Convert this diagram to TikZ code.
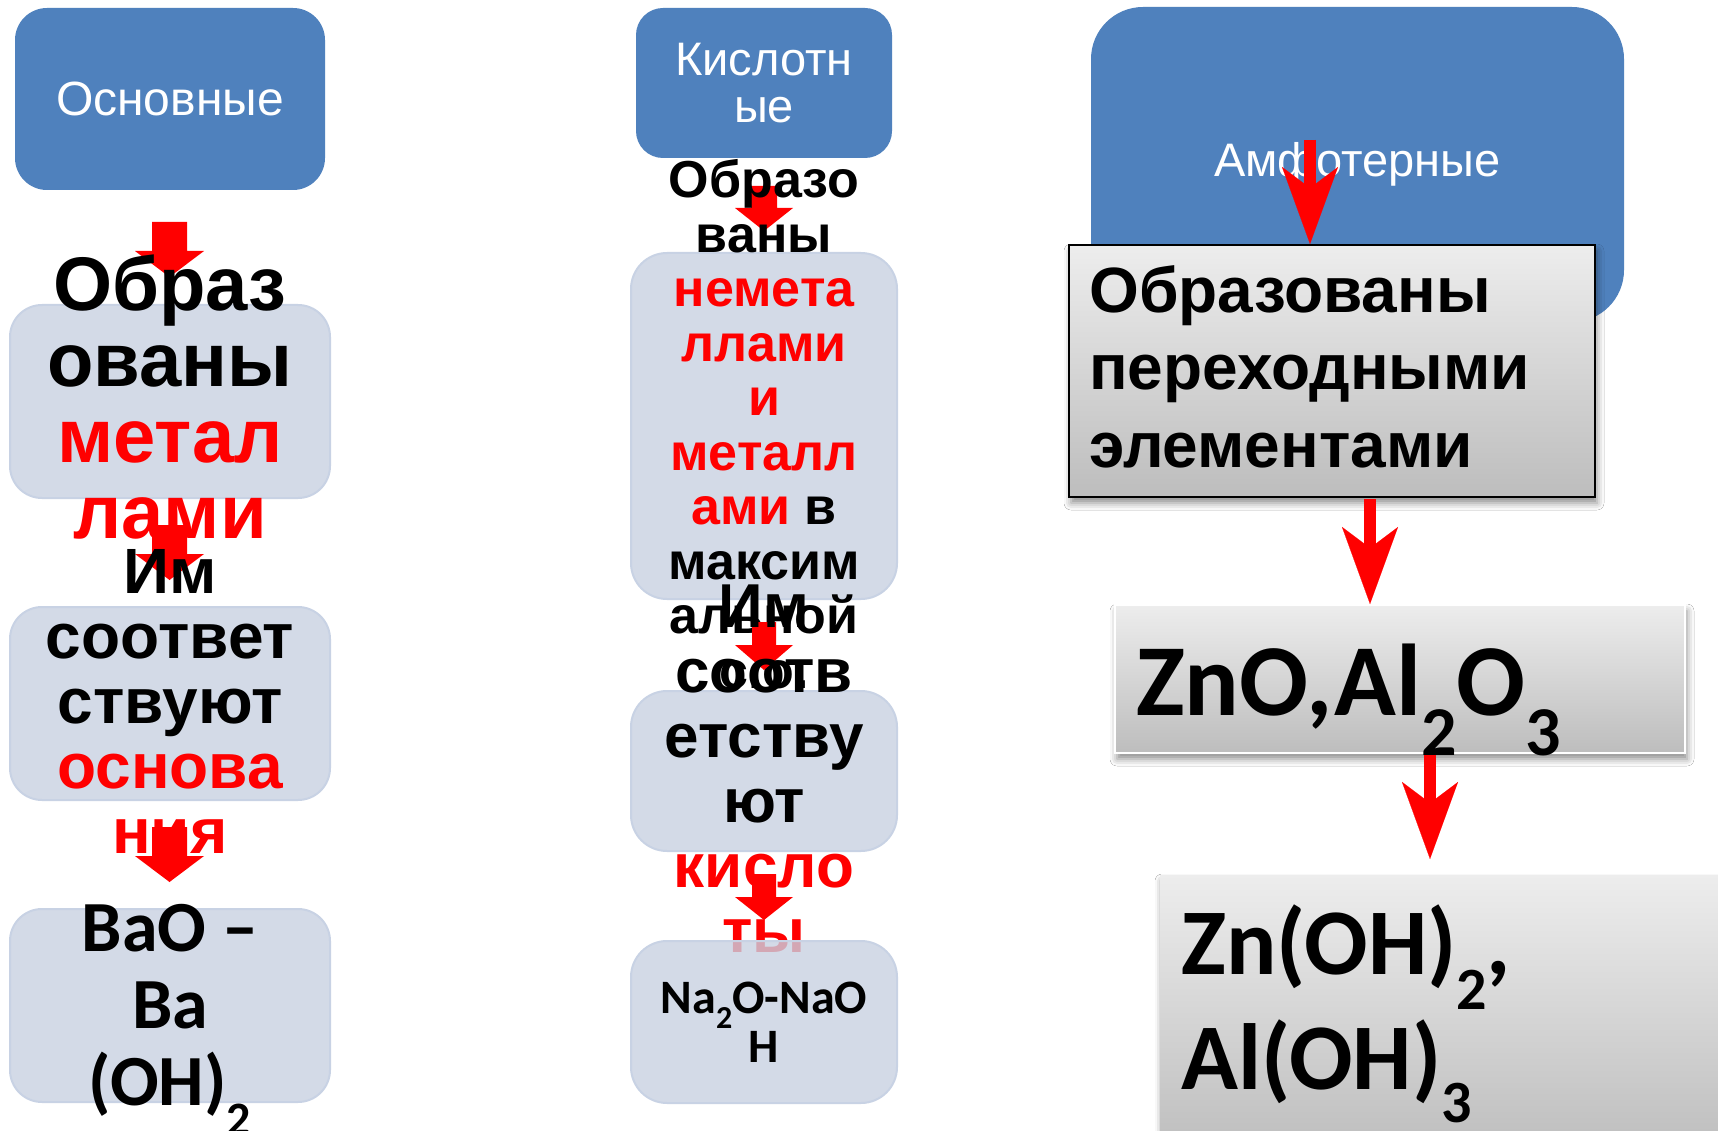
\documentclass[tikz,border=0pt]{standalone}
\usepackage{fontspec}
\setmainfont{Liberation Sans}
\newfontfamily\calib{Carlito}
\usetikzlibrary{arrows.meta,shadows.blur}

\definecolor{hdrblue}{RGB}{79,129,189}
\definecolor{paleblue}{RGB}{200,209,226}
\definecolor{paleedge}{RGB}{200,210,228}
\definecolor{grtop}{RGB}{237,237,237}
\definecolor{grbot}{RGB}{189,189,189}

% text block whose anchor is the baseline of its first line
\newcommand\stackc[3]{\parbox[t]{600pt}{\centering\fontsize{#1}{#2}\selectfont\bfseries\lineskiplimit=-1000pt\lineskip=0pt #3}}
\newcommand\stackl[3]{\parbox[t]{560pt}{\raggedright\fontsize{#1}{#2}\selectfont\bfseries\lineskiplimit=-1000pt\lineskip=0pt #3}}
\newcommand\red[1]{\textcolor{red}{#1}}
% chemical index: lowered by #1, set at size #2
\newcommand\chidx[3]{\raisebox{-#1pt}{\fontsize{#2}{#2}\selectfont #3}}
% block arrow: centre x, tip y, shaft half width, head half width, head length, shaft length
\newcommand\blockarrow[6]{%
  \fill[red] ({#1-#3},{#2-#5-#6}) -- ({#1+#3},{#2-#5-#6}) -- ({#1+#3},{#2-#5})
    -- ({#1+#4},{#2-#5}) -- (#1,#2) -- ({#1-#4},{#2-#5}) -- ({#1-#3},{#2-#5}) -- cycle;}

\begin{document}
\begin{tikzpicture}[x=1pt,y=-1pt,
  hdr/.style={fill=hdrblue, text=white, inner sep=0pt, align=center,
    font=\fontsize{47}{47}\selectfont},
  pale/.style={fill=paleblue, fill opacity=0.8, draw=paleedge, line width=2pt,
    inner sep=0pt, rounded corners=32pt},
  txt/.style={anchor=base, inner sep=0pt},
  txtl/.style={anchor=base west, inner sep=0pt},
  grey/.style={top color=grtop, bottom color=grbot, inner sep=0pt,
    blur shadow={shadow xshift=2pt, shadow yshift=-6pt, shadow blur radius=7pt, shadow opacity=45}},
  conn/.style={red, line width=12pt,
    -{Stealth[length=77pt, width=56pt, inset=21pt, line width=0.1pt]}}
]
\useasboundingbox (0,0) rectangle (1718,1131);
\clip (0,0) rectangle (1718,1131);
\fill[white] (0,0) rectangle (1718,1131);

% ---------- basic oxides ----------
\node[hdr, minimum width=310pt, minimum height=182pt, rounded corners=32pt,
  font=\fontsize{48}{48}\selectfont] (osn) at (170,99) {Основные};
\blockarrow{169.5}{277}{17.5}{34.5}{26}{29}
\node[pale, minimum width=320pt, minimum height=193pt] (b11) at (170,401.5) {};
\node[txt] (t11) at (170,311) {\stackc{76}{76}{Образ\\ованы\\\red{метал}\\\red{лами}}};
\blockarrow{169.5}{580}{17.5}{34.5}{26}{29}
\node[pale, minimum width=320pt, minimum height=193pt] (b12) at (170,703.5) {};
\node[txt] (t12) at (170,593) {\stackc{64}{65}{Им\\соответ\\ствуют\\\red{основа}\\\red{ния}}};
\blockarrow{169.5}{882}{17.5}{34.5}{26}{29}
\node[pale, minimum width=320pt, minimum height=193pt] (b13) at (170,1005.5) {};
\node[txt] (t13) at (170,951) {\calib\stackc{72}{77}{BaO –\\Ba\\(OH)\chidx{30}{48}{2}}};

% ---------- acidic oxides ----------
\node[hdr, minimum width=256pt, minimum height=150pt, rounded corners=27pt] (kis) at (764,83) {Кислотн\\ые};
\blockarrow{764}{231}{13}{29}{23}{22}
\node[pale, minimum width=266pt, minimum height=346pt, rounded corners=36pt] (b21) at (764,426) {};
\node[txt] (t21) at (764,198) {\stackc{52}{54.5}{Образо\\ваны\\\red{немета}\\\red{ллами}\\\red{и}\\\red{металл}\\\red{ами} в\\максим\\альной\\с.о.}};
\blockarrow{764}{670}{12}{29}{25}{23}
\node[pale, minimum width=266pt, minimum height=160pt, rounded corners=36pt] (b22) at (764,771) {};
\node[txt] (t22) at (764,627) {\stackc{62}{65}{Им\\соотв\\етству\\ют\\\red{кисло}\\\red{ты}}};
\blockarrow{764}{920}{12}{29}{23}{23}
\node[pale, minimum width=266pt, minimum height=162pt, rounded corners=36pt] (b23) at (764,1022) {};
\node[txt] (t23) at (764,1013) {\calib\stackc{48}{49}{Na\chidx{15}{32}{2}O-NaO\\H}};

% ---------- amphoteric oxides ----------
\node[hdr, minimum width=533pt, minimum height=315pt, rounded corners=52pt] (amf) at (1357.5,164.5) {\raisebox{-5pt}{Амфотерные}};
\node[grey, draw=black, line width=2pt, minimum width=526pt, minimum height=252pt] (g1) at (1332,371) {};
\node[txtl] (tg1) at (1089,313) {\stackl{64}{77}{Образованы\\переходными\\элементами}};
\coordinate (s1) at (1310,140);
\draw[conn] (s1) -- (s1 |- g1.north);

\node[grey, draw=white, line width=2pt, minimum width=570pt, minimum height=148pt] (g2) at (1400,679) {};
\node[txtl] (tg2) at (1136,715) {\calib\stackl{102}{102}{ZnO,Al\chidx{40}{70}{2}O\chidx{40}{70}{3}}};
\coordinate (s2) at (1370,499);
\draw[conn] (s2) -- (s2 |- g2.north);

\node[grey, minimum width=580pt, minimum height=280pt] (g3) at (1450,1015) {};
\node[txtl] (tg3) at (1181,974) {\calib\stackl{94}{115}{Zn(OH)\chidx{35}{60}{2},\\Al(OH)\chidx{33}{60}{3}}};
\coordinate (s3) at (1430,755);
\coordinate (e3) at (1430,859);
\draw[conn] (s3) -- (e3);
\end{tikzpicture}
\end{document}
